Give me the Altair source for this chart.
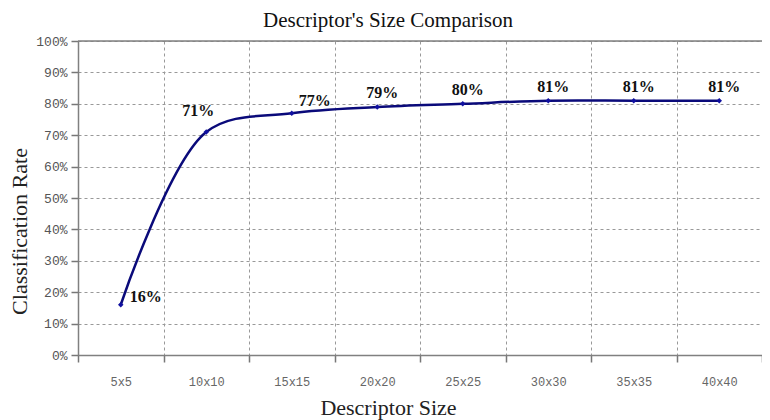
import altair as alt
import pandas as pd

categories = ["5x5", "10x10", "15x15", "20x20", "25x25", "30x30", "35x35", "40x40"]
rates = [0.16, 0.71, 0.77, 0.79, 0.80, 0.81, 0.81, 0.81]
labels = ["16%", "71%", "77%", "79%", "80%", "81%", "81%", "81%"]
title_text = "Descriptor's Size Comparison"

df = pd.DataFrame({"size": categories, "rate": rates, "label": labels})

SERIF = "Liberation Serif"
LINE = "#0a0a7a"

x_axis = alt.Axis(
    title="Descriptor Size",
    titleFont=SERIF, titleFontSize=22, titleFontWeight="normal", titleColor="#222",
    titleX=310, titleY=52, titleAlign="center", titleBaseline="middle",
    labelFont="Liberation Mono", labelFontSize=12, labelColor="#666",
    labelAngle=0, labelPadding=14,
    tickBand="extent", tickSize=7, tickColor="#777", tickWidth=1.5,
    domainColor="#808080", domainWidth=1.5,
    grid=True, gridDash=[3, 3], gridColor="#999", gridWidth=1,
)
y_axis = alt.Axis(
    title="Classification Rate",
    titleFont=SERIF, titleFontSize=22, titleFontWeight="normal", titleColor="#222",
    titleX=-59, titleY=190, titleAlign="center", titleBaseline="middle", titleAngle=270,
    format=".0%", values=[0, 0.1, 0.2, 0.3, 0.4, 0.5, 0.6, 0.7, 0.8, 0.9, 1.0],
    labelFont="Liberation Mono", labelFontSize=13, labelColor="#555", labelPadding=4,
    labelOverlap=False,
    tickSize=7, tickColor="#777", tickWidth=1.5,
    domainColor="#808080", domainWidth=1.5,
    grid=True, gridDash=[3, 3], gridColor="#999", gridWidth=1,
)
x_scale = alt.Scale(type="band", paddingInner=0, paddingOuter=0, domain=categories)
y_scale = alt.Scale(domain=[0, 1])


def X():
    return alt.X("size:N", sort=categories, scale=x_scale, axis=x_axis)


def Y(field="rate:Q"):
    return alt.Y(field, scale=y_scale, axis=y_axis)


base = alt.Chart(df)

line = base.mark_line(interpolate="catmull-rom", color=LINE, strokeWidth=2.5).encode(x=X(), y=Y())
pts = base.mark_point(filled=True, shape="diamond", size=30, color="#1010a0", opacity=1).encode(x=X(), y=Y())

# solid top border of the plot area
top_rule = base.transform_aggregate(top="max(rate)").transform_calculate(top="1").mark_rule(
    color="#808080", strokeWidth=1.5
).encode(y=Y("top:Q"))

text_style = dict(font=SERIF, fontSize=16, fontWeight="bold", color="#111")
txt_main = base.transform_filter(
    "datum.size != '5x5' && datum.size != '10x10' && datum.size != '15x15'"
).mark_text(dy=-14, dx=5, **text_style).encode(x=X(), y=Y(), text="label:N")
txt_16 = base.transform_filter("datum.size == '5x5'").mark_text(
    dx=25, dy=-8, **text_style
).encode(x=X(), y=Y(), text="label:N")
txt_71 = base.transform_filter("datum.size == '10x10'").mark_text(
    dx=-8, dy=-21, **text_style
).encode(x=X(), y=Y(), text="label:N")
txt_77 = base.transform_filter("datum.size == '15x15'").mark_text(
    dx=23, dy=-12, **text_style
).encode(x=X(), y=Y(), text="label:N")

# chart title, drawn as text above the plot area
title = base.transform_aggregate(n="count()").mark_text(
    font=SERIF, fontSize=21, color="#111", align="center", baseline="middle"
).encode(x=alt.value(310), y=alt.value(-20), text=alt.value(title_text))

chart = alt.layer(top_rule, line, pts, txt_main, txt_16, txt_71, txt_77, title).properties(
    width=684,
    height=314,
    autosize=alt.AutoSizeParams(type="none"),
    padding={"left": 70, "top": 33, "right": 0, "bottom": 70},
).configure_view(stroke=None).configure(background="white")

chart.save("out.html", embed_options={"renderer": "svg", "actions": False})
